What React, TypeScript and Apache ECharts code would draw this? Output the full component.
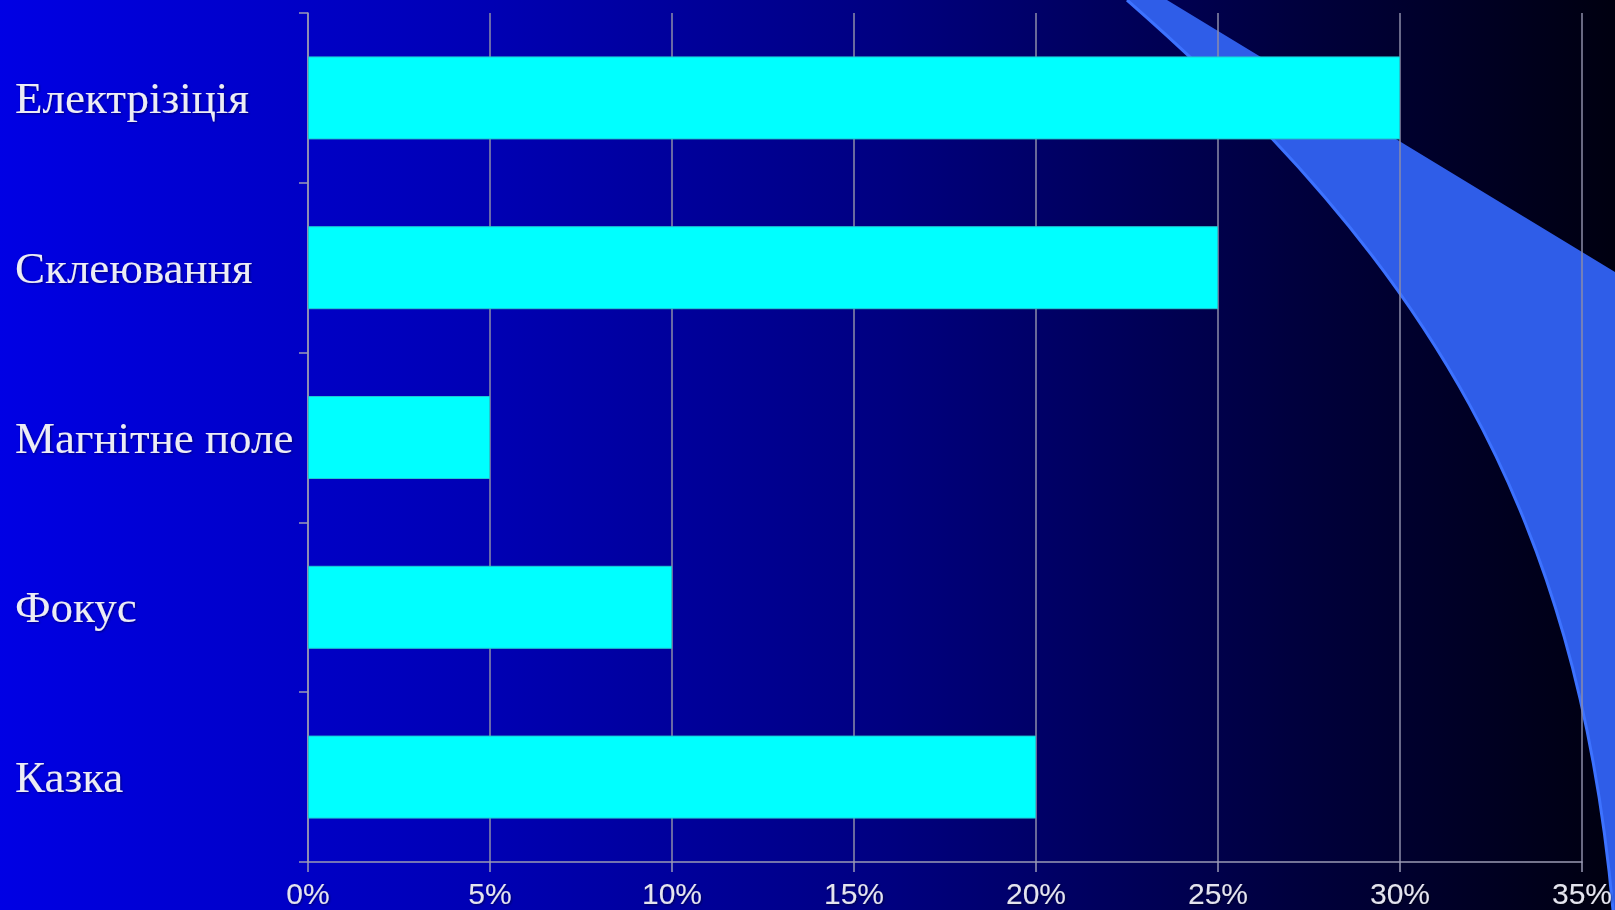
import React, { useEffect, useRef } from "react";
import * as echarts from "echarts";

const categories = ["Електрізіція", "Склеювання", "Магнітне поле", "Фокус", "Казка"];
const values = [30, 25, 5, 10, 20];
const axisMin = 0;
const axisMax = 35;
const axisStep = 5;

const SHAPE_D = "M1127 0 L1167 0 L1615 272 L1615 910 L1613 910 C1577 512 1428 263 1127 0 Z";
const EDGE_D = "M1127 0 C1428 263 1577 512 1613 910";

let registered = false;
function registerShapes() {
  if (registered) return;
  echarts.graphic.registerShape("swoosh", echarts.graphic.extendPath(SHAPE_D, {}));
  echarts.graphic.registerShape("swooshEdge", echarts.graphic.extendPath(EDGE_D, {}));
  registered = true;
}

export default function App() {
  const ref = useRef<HTMLDivElement>(null);
  useEffect(() => {
    if (!ref.current) return;
    registerShapes();
    const chart = echarts.init(ref.current, undefined, { renderer: "svg" });
    const axisColor = "#9a9ab4";
    chart.setOption({
      animation: false,
      graphic: [
        {
          type: "rect",
          z: -3,
          shape: { x: 0, y: 0, width: 1615, height: 910 },
          style: {
            fill: new echarts.graphic.LinearGradient(0, 0, 1, 0, [
              { offset: 0, color: "#0000e4" },
              { offset: 0.3, color: "#0000b4" },
              { offset: 0.55, color: "#000080" },
              { offset: 0.8, color: "#00003e" },
              { offset: 1, color: "#000010" },
            ]),
          },
          silent: true,
        },
        {
          type: "swoosh",
          z: -2,
          x: 0,
          y: 0,
          style: { fill: "#2f5de8" },
          silent: true,
        },
        {
          type: "swooshEdge",
          z: -1,
          x: 0,
          y: 0,
          style: { fill: null, stroke: "#3d72ff", lineWidth: 3 },
          silent: true,
        },
      ],
      grid: { left: 308, right: 32, top: 13, bottom: 48, containLabel: false },
      xAxis: {
        type: "value",
        min: axisMin,
        max: axisMax,
        interval: axisStep,
        axisLine: { show: true, lineStyle: { color: axisColor, width: 1.5 } },
        axisTick: { show: true, length: 10, lineStyle: { color: axisColor, width: 1.5 } },
        axisLabel: {
          formatter: "{value}%",
          color: "#e4e4ee",
          fontFamily: "Liberation Sans",
          fontSize: 30,
          lineHeight: 30,
          margin: 16,
          showMaxLabel: true,
          showMinLabel: true,
          textShadowColor: "rgba(0,0,0,0.45)",
          textShadowBlur: 2,
          textShadowOffsetX: 1,
          textShadowOffsetY: 1,
        },
        splitLine: { show: true, lineStyle: { color: "#8c8ca8", width: 1.5 } },
      },
      yAxis: {
        type: "category",
        data: categories,
        inverse: true,
        axisLine: { show: true, lineStyle: { color: axisColor, width: 1.5 } },
        axisTick: { show: true, length: 9, lineStyle: { color: axisColor, width: 1.5 } },
        axisLabel: {
          align: "left",
          margin: 293,
          color: "#ececf4",
          fontFamily: "Liberation Serif",
          fontSize: 45,
          textShadowColor: "rgba(0,0,0,0.45)",
          textShadowBlur: 2,
          textShadowOffsetX: 1,
          textShadowOffsetY: 1,
        },
        splitLine: { show: false },
      },
      series: [
        {
          type: "bar",
          data: values,
          barWidth: 83,
          itemStyle: { color: "#00ffff", borderColor: "#20c8d0", borderWidth: 1 },
        },
      ],
    });
    return () => chart.dispose();
  }, []);
  return (
    <div
      ref={ref}
      style={{ position: "fixed", left: 0, top: 0, width: 1615, height: 910 }}
    />
  );
}
